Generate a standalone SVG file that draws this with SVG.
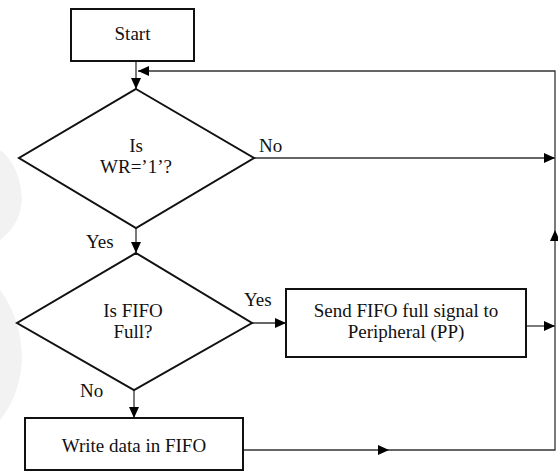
<svg xmlns="http://www.w3.org/2000/svg" width="558" height="472" viewBox="0 0 558 472">
  <style>
    .box { fill: #ffffff; stroke: #111111; stroke-width: 2; }
    .txt { font-family: "Liberation Serif", "Times New Roman", serif; font-size: 19px; fill: #111111; }
    .mid { text-anchor: middle; }
    .con { fill: none; stroke: #333333; stroke-width: 1.3; }
    .bg { fill: #f2f2f2; stroke: none; }
  </style>
  <defs>
    <marker id="arr" markerUnits="userSpaceOnUse" markerWidth="12" markerHeight="10" refX="11" refY="5" orient="auto">
      <path d="M0,0 L11,5 L0,10 Z" fill="#000000"/>
    </marker>
  </defs>

  <g id="watermark">
    <path class="bg" d="M0,150 Q20,165 22,200 Q20,225 0,240 Z"/>
    <path class="bg" d="M0,290 Q22,320 22,360 Q20,395 0,420 Z"/>
  </g>

  <g id="connectors">
    <line class="con" x1="136" y1="61" x2="136" y2="89" marker-end="url(#arr)"/>
    <line class="con" x1="253" y1="158" x2="555" y2="158" marker-end="url(#arr)"/>
    <line class="con" x1="136" y1="228" x2="136" y2="253" marker-end="url(#arr)"/>
    <line class="con" x1="252" y1="323" x2="286" y2="323" marker-end="url(#arr)"/>
    <line class="con" x1="526" y1="326" x2="555" y2="326" marker-end="url(#arr)"/>
    <line class="con" x1="134" y1="390" x2="134" y2="418" marker-end="url(#arr)"/>
    <line class="con" x1="243" y1="450" x2="389" y2="450" marker-end="url(#arr)" stroke="#777777"/>
    <polyline class="con" points="389,450 555,450 555,230" marker-end="url(#arr)" stroke="#777777"/>
    <polyline class="con" points="555,230 555,71 138,71" marker-end="url(#arr)"/>
  </g>

  <g id="start">
    <rect class="box" x="71" y="9" width="123" height="52"/>
    <text class="txt mid" x="132.5" y="40">Start</text>
  </g>

  <g id="decision-wr">
    <polygon class="box" points="136,89 254,158 136,228 19,158"/>
    <text class="txt mid" x="136" y="152">Is</text>
    <text class="txt mid" x="136" y="173">WR=’1’?</text>
  </g>

  <g id="decision-full">
    <polygon class="box" points="136,253 252,323 134,390 17,323"/>
    <text class="txt mid" x="133" y="317">Is FIFO</text>
    <text class="txt mid" x="133" y="338">Full?</text>
  </g>

  <g id="send-full">
    <rect class="box" x="286" y="289" width="240" height="68"/>
    <text class="txt mid" x="406" y="317">Send FIFO full signal to</text>
    <text class="txt mid" x="406" y="338">Peripheral (PP)</text>
  </g>

  <g id="write-data">
    <rect class="box" x="25" y="418" width="218" height="52"/>
    <text class="txt mid" x="134" y="452">Write data in FIFO</text>
  </g>

  <g id="labels">
    <text class="txt" x="259" y="152">No</text>
    <text class="txt" x="86" y="248">Yes</text>
    <text class="txt" x="244" y="306">Yes</text>
    <text class="txt" x="80" y="397">No</text>
  </g>
</svg>
